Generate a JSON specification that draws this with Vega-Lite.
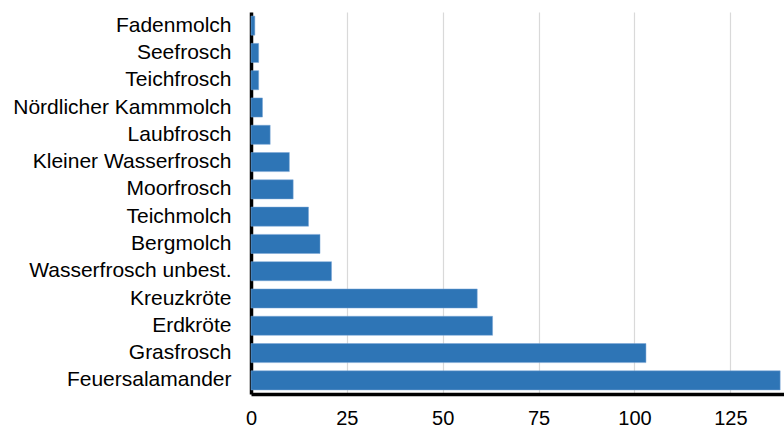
{
  "$schema": "https://vega.github.io/schema/vega-lite/v6.json",
  "width": 533,
  "height": 382,
  "autosize": {"type": "none"},
  "padding": {"left": 251, "top": 12, "right": 0, "bottom": 34},
  "background": "white",
  "config": {
    "view": {"stroke": null},
    "font": "Liberation Sans"
  },
  "data": {
    "values": [
      {"art": "Fadenmolch", "anzahl": 1},
      {"art": "Seefrosch", "anzahl": 2},
      {"art": "Teichfrosch", "anzahl": 2},
      {"art": "Nördlicher Kammmolch", "anzahl": 3},
      {"art": "Laubfrosch", "anzahl": 5},
      {"art": "Kleiner Wasserfrosch", "anzahl": 10},
      {"art": "Moorfrosch", "anzahl": 11},
      {"art": "Teichmolch", "anzahl": 15},
      {"art": "Bergmolch", "anzahl": 18},
      {"art": "Wasserfrosch unbest.", "anzahl": 21},
      {"art": "Kreuzkröte", "anzahl": 59},
      {"art": "Erdkröte", "anzahl": 63},
      {"art": "Grasfrosch", "anzahl": 103},
      {"art": "Feuersalamander", "anzahl": 138}
    ]
  },
  "mark": {"type": "bar", "color": "#2e75b6", "stroke": "#7aa7d6", "strokeWidth": 0.5},
  "encoding": {
    "y": {
      "field": "art",
      "type": "nominal",
      "sort": {"field": "anzahl", "order": "ascending"},
      "scale": {"paddingInner": 0.3, "paddingOuter": 0.15},
      "axis": {
        "title": null,
        "ticks": false,
        "tickSize": 0,
        "labelPadding": 20,
        "labelFontSize": 21,
        "labelColor": "#000000",
        "labelFont": "Liberation Sans",
        "domainColor": "#000000",
        "domainWidth": 3.5,
        "grid": false,
        "labelLimit": 400
      }
    },
    "x": {
      "field": "anzahl",
      "type": "quantitative",
      "scale": {"domain": [0, 139], "nice": false},
      "axis": {
        "title": null,
        "values": [0, 25, 50, 75, 100, 125],
        "ticks": false,
        "tickSize": 0,
        "labelPadding": 14,
        "labelFontSize": 20,
        "labelColor": "#000000",
        "labelFont": "Liberation Sans",
        "domainColor": "#000000",
        "domainWidth": 3.5,
        "grid": true,
        "gridColor": "#d9d9d9",
        "gridWidth": 1.2,
        "labelFlush": false
      }
    }
  }
}
